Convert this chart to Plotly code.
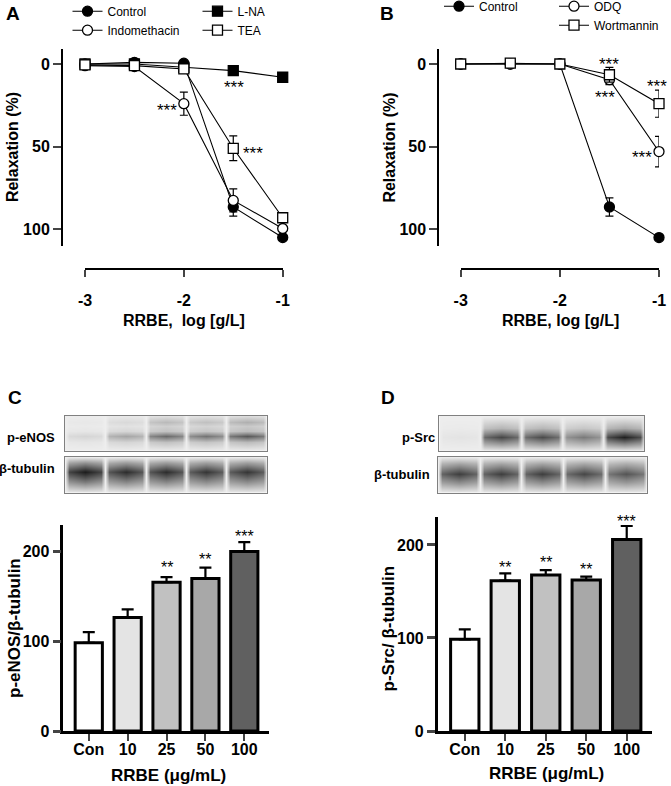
import plotly.graph_objects as go

# ---- data: vascular relaxation (panels A, B) ----
log_conc = [-3, -2.5, -2, -1.5, -1]

a_control = [0, -1, -0.5, 86.5, 105]
a_control_err = [0, 0, 0, 5.5, 1.5]
a_indo = [1, 1.5, 24, 82.5, 99.5]
a_indo_err = [0, 0, 7, 7, 1.5]
a_lna = [0, 0, 2, 4, 8]
a_lna_err = [0, 0, 0, 1, 1]
a_tea = [0.5, 1, 3, 51, 93]
a_tea_err = [0, 0, 1, 7.5, 2]

b_control = [0, 0, 0, 86.5, 105]
b_control_err = [0, 0, 0, 5.5, 1]
b_odq = [0, 0, 0, 9.5, 53]
b_odq_err = [0, 0, 0, 3, 9.2]
b_wort = [0, -0.5, 0, 6.5, 24]
b_wort_err = [0, 0, 0, 4.5, 8.2]

# significance marks
a_stars_x = [-2.17, -1.49, -0.99, -1.30]
a_stars_y = [25.4, 11.7, 15.7, 52]
b_stars_x = [-1.5, -1.54, -1.02, -1.176]
b_stars_y = [-2, 17.7, 11, 54.2]

# ---- data: western blot quantification (panels C, D) ----
doses = ["Con", "10", "25", "50", "100"]
c_enos = [98.5, 126.8, 166.2, 170.3, 200.4]
c_enos_err = [12, 9, 5.5, 12, 10.4]
c_stars = ["", "", "**", "**", "***"]
c_stars_y = [0, 0, 187, 196, 222]

d_src = [98.6, 161.6, 167.7, 162.4, 206]
d_src_err = [10.7, 7.9, 5.3, 3.6, 14.4]
d_stars = ["", "**", "**", "**", "***"]
d_stars_y = [0, 179.6, 185, 178, 230]

bar_colors = ["#ffffff", "#e4e4e4", "#c1c1c1", "#a8a8a8", "#606060"]

# band intensities per lane (0 = blank, 1 = darkest)
penos_lower = [0.12, 0.35, 0.62, 0.58, 0.70]
penos_upper = [0.03, 0.10, 0.25, 0.22, 0.30]
tub_c = [1.0, 0.9, 0.9, 0.86, 0.86]
psrc = [0.05, 0.78, 0.76, 0.55, 0.95]
tub_d = [0.82, 0.82, 0.82, 0.78, 0.72]

FONT = "Liberation Sans, Arial, sans-serif"
W, H = 671, 786


def px(x):
    return x / W


def py(y):
    return 1 - y / H


# shape of a band across one lane (style only)
LANE_DX = [0.0, 0.1, 0.5, 0.9]
LANE_W = [0.0, 0.8, 1.0, 0.8]


def blot_z(bands, ygrid):
    """bands: list of (lane_levels, vertical_profile)"""
    xs, hw, lane = [], [], []
    for i in range(5):
        for dx, w in zip(LANE_DX, LANE_W):
            xs.append(i + dx)
            hw.append(w)
            lane.append(i)
    xs.append(5.0)
    hw.append(0.0)
    lane.append(4)
    z = []
    for r in range(len(ygrid)):
        row = []
        for k in range(len(xs)):
            v = 0.03
            for levels, prof in bands:
                v += prof[r] * hw[k] * levels[lane[k]]
            row.append(min(v, 1))
        z.append(row)
    return xs, z


fig = go.Figure()


def curve(x, y, err, name, symbol, fill, xa, ya, legend):
    fig.add_trace(go.Scatter(
        x=x, y=y, name=name, mode="lines+markers",
        line=dict(color="black", width=1.1),
        marker=dict(symbol=symbol, size=10, color=fill,
                    line=dict(color="black", width=1.3)),
        error_y=dict(type="data", array=err, color="black", thickness=1.2, width=4),
        xaxis=xa, yaxis=ya, legend=legend, cliponaxis=False,
    ))


# panel A
curve(log_conc, a_control, a_control_err, "Control", "circle", "black", "x", "y", "legend")
curve(log_conc, a_indo, a_indo_err, "Indomethacin", "circle", "white", "x", "y", "legend")
curve(log_conc, a_lna, a_lna_err, "L-NA", "square", "black", "x", "y", "legend2")
curve(log_conc, a_tea, a_tea_err, "TEA", "square", "white", "x", "y", "legend2")

# panel B
curve(log_conc, b_control, b_control_err, "Control", "circle", "black", "x2", "y2", "legend3")
curve(log_conc, b_odq, b_odq_err, "ODQ", "circle", "white", "x2", "y2", "legend4")
curve(log_conc, b_wort, b_wort_err, "Wortmannin", "square", "white", "x2", "y2", "legend4")

# panels C and D bars
for vals, err, xa, ya in [(c_enos, c_enos_err, "x3", "y3"), (d_src, d_src_err, "x4", "y4")]:
    fig.add_trace(go.Bar(
        x=doses, y=vals, width=0.7,
        marker=dict(color=bar_colors, line=dict(color="black", width=3)),
        error_y=dict(type="data", symmetric=False, array=err, arrayminus=[0] * 5,
                     color="black", thickness=2.2, width=6),
        xaxis=xa, yaxis=ya, showlegend=False,
    ))

# blots
blot_scale = [[0, "#f4f4f4"], [0.5, "#8c8c8c"], [1, "#1c1c1c"]]
penos_y = [0.0, 0.24, 0.42, 0.58, 0.70, 0.84, 1.0]
blots = [
    ("x5", "y5", [(penos_lower, [0, 0.35, 1, 0.3, 0, 0, 0]),
                  (penos_upper, [0, 0, 0, 0.1, 0.6, 1, 0.3])], penos_y),
    ("x6", "y6", [(tub_c, [0, 0.55, 1, 0.45, 0])], [0, 0.3, 0.58, 0.84, 1]),
    ("x7", "y7", [(psrc, [0, 0.5, 1, 0.35, 0])], [0, 0.18, 0.40, 0.64, 1]),
    ("x8", "y8", [(tub_d, [0, 0.55, 1, 0.45, 0])], [0, 0.28, 0.53, 0.8, 1]),
]
for xa, ya, bands, ygrid in blots:
    xs, z = blot_z(bands, ygrid)
    fig.add_trace(go.Heatmap(
        x=xs, y=ygrid, z=z, zmin=0, zmax=1, colorscale=blot_scale,
        zsmooth="best", showscale=False, hoverinfo="skip",
        xaxis=xa, yaxis=ya,
    ))

bold16 = dict(family=FONT, size=16, color="black", weight="bold")

curve_x = dict(range=[-3, -1], anchor="free", showline=True, linewidth=2,
               linecolor="black", ticks="outside", ticklen=7, tickwidth=2,
               tickvals=[-3, -2, -1], ticktext=["-3", "-2", "-1"], tickfont=bold16,
               showgrid=False, zeroline=False, ticklabelstandoff=9,
               position=py(269.3), automargin=False)
curve_y = dict(range=[110.1, -8.9], anchor="free", showline=True, linewidth=2,
               linecolor="black", ticks="outside", ticklen=8, tickwidth=2,
               tickvals=[0, 50, 100], tickfont=bold16, showgrid=False,
               zeroline=False, domain=[py(246), py(49.3)], automargin=False)
bar_x = dict(type="category", showline=True, linewidth=2.5, linecolor="black",
             ticks="outside", ticklen=7, tickwidth=2, tickfont=bold16,
             showgrid=False, zeroline=False, ticklabelstandoff=-5, automargin=False)
bar_y = dict(showline=True, linewidth=2.5, linecolor="black", ticks="outside",
             ticklen=8, tickwidth=2.5, tickvals=[0, 100, 200], tickfont=bold16,
             showgrid=False, zeroline=False, automargin=False)
blot_ax = dict(showline=True, mirror=True, linecolor="#808080", linewidth=1,
               showticklabels=False, ticks="", showgrid=False, zeroline=False,
               automargin=False)

legend_base = dict(font=dict(family=FONT, size=12, color="black"), itemwidth=30,
                   bgcolor="rgba(0,0,0,0)", yanchor="top", xanchor="left",
                   tracegroupgap=0, traceorder="normal")

fig.update_layout(
    width=W, height=H, margin=dict(l=0, r=0, t=0, b=0, autoexpand=False),
    paper_bgcolor="white", plot_bgcolor="white",
    font=dict(family=FONT, color="black"),
    xaxis=dict(curve_x, domain=[px(85), px(282.7)]),
    yaxis=dict(curve_y, position=px(62)),
    xaxis2=dict(curve_x, domain=[px(460.7), px(659)]),
    yaxis2=dict(curve_y, position=px(438.3)),
    xaxis3=dict(bar_x, domain=[px(63.3), px(269.3)], range=[-0.655, 4.643], anchor="y3"),
    yaxis3=dict(bar_y, domain=[py(731), py(525)], range=[0, 230], anchor="x3"),
    xaxis4=dict(bar_x, domain=[px(437.7), px(651.7)], range=[-0.669, 4.617], anchor="y4"),
    yaxis4=dict(bar_y, domain=[py(731), py(516.7)], range=[0, 230.4], anchor="x4"),
    xaxis5=dict(blot_ax, domain=[px(65), px(266.7)], range=[0, 5], anchor="y5"),
    yaxis5=dict(blot_ax, domain=[py(450.7), py(416)], range=[0, 1], anchor="x5"),
    xaxis6=dict(blot_ax, domain=[px(65), px(266.7)], range=[0, 5], anchor="y6"),
    yaxis6=dict(blot_ax, domain=[py(492.7), py(456.7)], range=[0, 1], anchor="x6"),
    xaxis7=dict(blot_ax, domain=[px(439.3), px(644.3)], range=[0, 5], anchor="y7"),
    yaxis7=dict(blot_ax, domain=[py(450.7), py(416)], range=[0, 1], anchor="x7"),
    xaxis8=dict(blot_ax, domain=[px(438), px(646.7)], range=[0, 5], anchor="y8"),
    yaxis8=dict(blot_ax, domain=[py(492.7), py(456.7)], range=[0, 1], anchor="x8"),
    legend=dict(legend_base, x=px(67.5), y=py(-3.3)),
    legend2=dict(legend_base, x=px(197.5), y=py(-3.3)),
    legend3=dict(legend_base, x=px(439), y=py(-8.3)),
    legend4=dict(legend_base, x=px(554), y=py(-8.3)),
)

ann = []


def text(x, y, s, size=16, bold=True, xanchor="center", angle=0, xref="paper", yref="paper", yshift=0):
    ann.append(dict(x=x, y=y, text=s, xref=xref, yref=yref, showarrow=False,
                    xanchor=xanchor, yanchor="middle", textangle=angle, yshift=yshift,
                    font=dict(family=FONT, size=size, color="black",
                              weight="bold" if bold else "normal")))


# panel letters
for letter, lx, ly in [("A", 12.5, 13.5), ("B", 387, 13.5), ("C", 14.5, 397.5), ("D", 388, 397.5)]:
    text(px(lx), py(ly), letter, size=19)

# axis titles
text(px(12.5), py(147.6), "Relaxation (%)", angle=-90)
text(px(390), py(147.6), "Relaxation (%)", angle=-90)
text(px(184), py(320), "RRBE,\u00a0 log [g/L]")
text(px(560), py(320), "RRBE, log [g/L]")
text(px(14), py(628), "p-eNOS/β-tubulin", size=17, angle=-90)
text(px(387.5), py(628), "p-Src/ β-tubulin", size=17, angle=-90)
text(px(168.5), py(775), "RRBE (μg/mL)", size=17)
text(px(546.5), py(773), "RRBE (μg/mL)", size=17)

# blot labels
text(px(57.3), py(437.7), "p-eNOS", size=13, xanchor="right")
text(px(57.3), py(468.3), "β-tubulin", size=13, xanchor="right")
text(px(436.7), py(437.7), "p-Src", size=13, xanchor="right")
text(px(431.7), py(474.3), "β-tubulin", size=13, xanchor="right")

# significance stars
for sx, sy in zip(a_stars_x, a_stars_y):
    text(sx, sy, "***", size=17, bold=False, xref="x", yref="y", yshift=-4)
for sx, sy in zip(b_stars_x, b_stars_y):
    text(sx, sy, "***", size=17, bold=False, xref="x2", yref="y2", yshift=-4)
for i, (s, sy) in enumerate(zip(c_stars, c_stars_y)):
    if s:
        text(i, sy, s, bold=False, xref="x3", yref="y3", yshift=-4)
for i, (s, sy) in enumerate(zip(d_stars, d_stars_y)):
    if s:
        text(i, sy, s, bold=False, xref="x4", yref="y4", yshift=-4)

fig.update_layout(annotations=ann)

# drop the browser's default page margin so the figure sits at the window corner
fig.write_html("out.html", config={"displayModeBar": False},
               post_script="document.body.style.margin = '0';")
